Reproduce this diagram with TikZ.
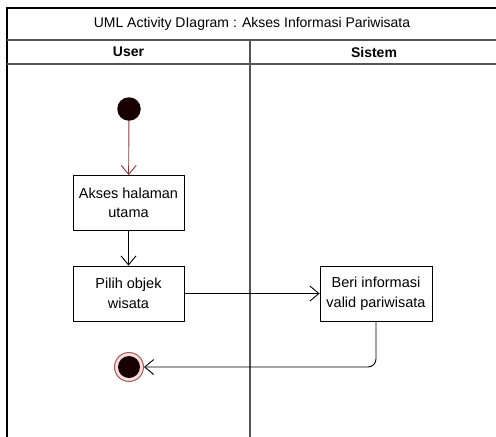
\documentclass[tikz,border=0pt]{standalone}
\usepackage{fontspec}
\setmainfont{Liberation Sans}
\usetikzlibrary{arrows.meta}

\definecolor{startred}{HTML}{8E3B3B}
\definecolor{ringred}{HTML}{A85A5A}
\definecolor{ringfill}{HTML}{F6DEDE}
\definecolor{lanegray}{HTML}{555555}

\begin{document}
\begin{tikzpicture}[x=1pt, y=-1pt,
		act/.style={draw, thick, minimum width=111pt, minimum height=55pt, align=center, font=\fontsize{14.5}{19.5}\selectfont, inner sep=2pt},
		lab/.style={font=\fontsize{14}{17}\selectfont},
		lanelab/.style={font=\bfseries\fontsize{14}{17}\selectfont},
		ed/.style={line width=0.9pt, -{Straight Barb[length=9pt, width=15pt, line width=0.9pt]}},
		frm/.style={line width=1.3pt},
		ln/.style={line width=1.5pt, lanegray}
		]
		\useasboundingbox (0,0) rectangle (496,437);
		% swimlane frame
		\draw[frm] (496,8) -- (7,8) -- (7,437);
		\draw[ln] (7,40) -- (496,40);
		\draw[ln] (7,64) -- (496,64);
		\draw[ln] (250,40) -- (250,437);
		\node[lab] (title) at (252,24) {UML Activity DIagram : Akses Informasi Pariwisata};
		\node[lanelab] (user) at (128.5,52) {User};
		\node[lanelab] (sistem) at (374,52) {Sistem};
		% activities
		\node[circle, fill=black!90!red, minimum size=23.5pt, inner sep=0pt] (start) at (129,109) {};
		\node[act] (akses) at (128.5,203) {Akses halaman\\utama};
		\node[act] (pilih) at (128.5,293.5) {Pilih objek\\wisata};
		\node[act, minimum width=112pt] (beri) at (376,293.5) {Beri informasi\\valid pariwisata};
		\node[circle, draw=ringred, fill=ringfill, line width=1pt, minimum size=29pt, inner sep=0pt] (final) at (129,367) {};
		\node[circle, fill=black!90!red, minimum size=22pt, inner sep=0pt] at (final) {};
		% flows
		\draw[ed, startred] (start) -- (akses);
		\draw[ed] (akses) -- (pilih);
		\draw[ed] (pilih) -- (beri);
		\draw[ed, rounded corners=8pt] (beri.south) |- (final);
	\end{tikzpicture}
\end{document}
